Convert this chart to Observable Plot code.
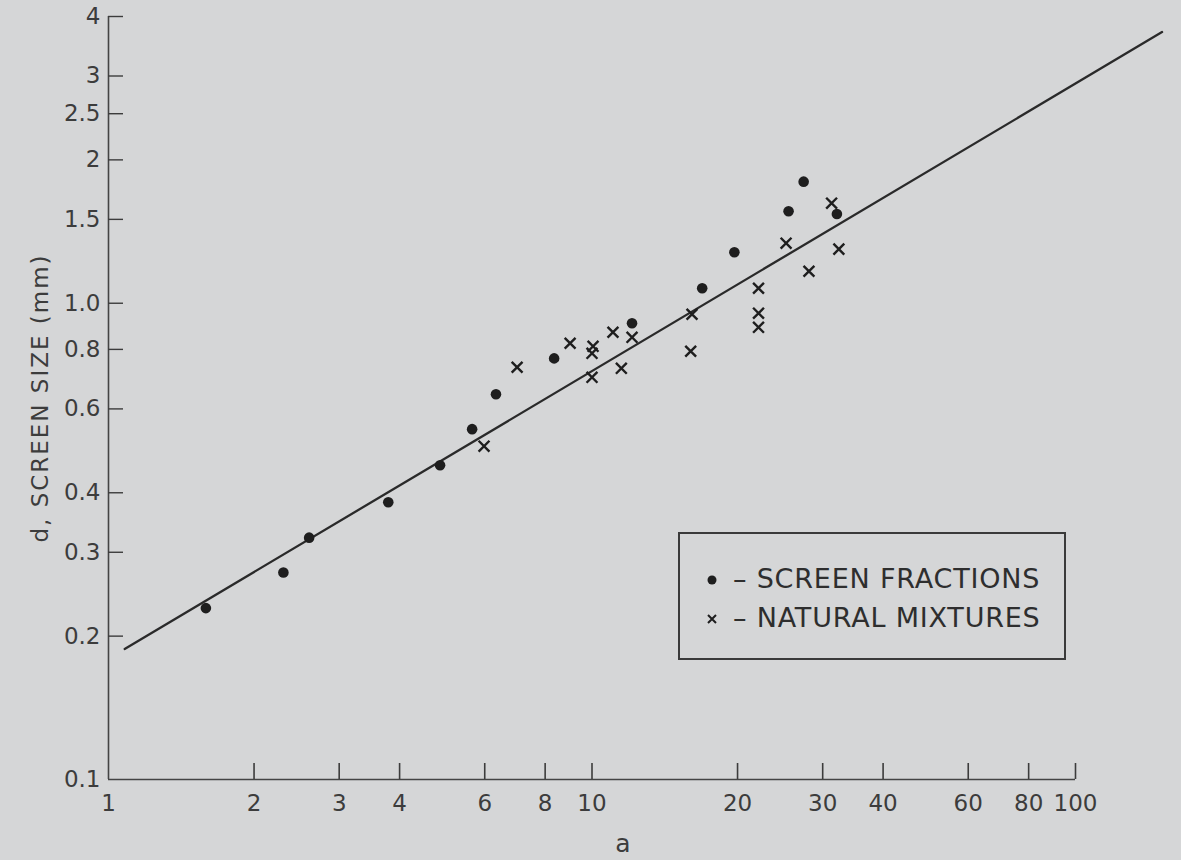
<!DOCTYPE html>
<html><head><meta charset="utf-8">
<script src="https://cdn.jsdelivr.net/npm/d3@7"></script>
<script src="https://cdn.jsdelivr.net/npm/@observablehq/plot@0.6"></script>
<style>
html,body{margin:0;padding:0;background:#d5d6d7;}
#wrap{position:relative;width:1181px;height:860px;overflow:hidden;}
#legend{position:absolute;left:678px;top:532px;width:384px;height:124px;border:2px solid #3a3a3a;}
.row{position:absolute;left:53px;font-family:"DejaVu Sans";font-size:27px;letter-spacing:0.8px;line-height:30px;color:#2e2e2e;white-space:nowrap;}
.sym{position:absolute;}
</style></head><body><div id="wrap"></div>
<script>
// Screen fractions (dots)
const screenA = [1.59, 2.30, 2.60, 3.79, 4.85, 5.65, 6.33, 8.35, 12.1, 16.9, 19.7, 25.5, 27.4, 32.1];
const screenD = [0.229, 0.272, 0.322, 0.382, 0.457, 0.544, 0.644, 0.766, 0.908, 1.075, 1.28, 1.56, 1.80, 1.54];
// Natural mixtures (crosses)
const mixA = [5.98, 7.0, 9.01, 10.05, 10.0, 10.0, 11.05, 11.5, 12.1, 16.1, 16.0, 22.1, 22.1, 22.1, 25.2, 28.1, 31.3, 32.4];
const mixD = [0.501, 0.734, 0.824, 0.812, 0.785, 0.699, 0.869, 0.730, 0.848, 0.948, 0.793, 1.075, 0.953, 0.890, 1.337, 1.167, 1.622, 1.299];
// Fitted line end points
const lineA = [1.08, 151];
const lineD = [0.188, 3.71];
// Axis ticks
const xTicks = [1, 2, 3, 4, 6, 8, 10, 20, 30, 40, 60, 80, 100];
const xTickLabels = ["1", "2", "3", "4", "6", "8", "10", "20", "30", "40", "60", "80", "100"];
const yTicks = [0.1, 0.2, 0.3, 0.4, 0.6, 0.8, 1.0, 1.5, 2, 2.5, 3, 4];
const yTickLabels = ["0.1", "0.2", "0.3", "0.4", "0.6", "0.8", "1.0", "1.5", "2", "2.5", "3", "4"];
const xLabel = "a";
const yLabel = "d, SCREEN SIZE (mm)";
const legendLabels = ["SCREEN FRACTIONS", "NATURAL MIXTURES"];

const screen = screenA.map((a, i) => ({a, d: screenD[i]}));
const mix = mixA.map((a, i) => ({a, d: mixD[i]}));
const fit = lineA.map((a, i) => ({a, d: lineD[i]}));
const xt = xTicks.map((v, i) => ({v, label: xTickLabels[i]}));
const yt = yTicks.map((v, i) => ({v, label: yTickLabels[i]}));
const ink = "#1e1e1e";
const txt = "#3c3c3c";

const chart = Plot.plot({
  width: 1181,
  height: 860,
  marginLeft: 108,
  marginRight: 106,
  marginTop: 16,
  marginBottom: 81,
  style: {background: "#d5d6d7", fontFamily: "DejaVu Sans", fontSize: "23px", color: txt},
  x: {type: "log", domain: [1, 100], label: null, axis: null},
  y: {type: "log", domain: [0.1, 4], label: null, axis: null},
  marks: [
    Plot.ruleX([1], {stroke: "#444", strokeWidth: 1.6}),
    Plot.ruleY([0.1], {stroke: "#444", strokeWidth: 1.6}),
    Plot.axisX({ticks: xTicks.slice(1), tickSize: -16, tickFormat: () => "", strokeWidth: 1.6}),
    Plot.axisY({ticks: yTicks.slice(1), tickSize: -15, tickFormat: () => "", strokeWidth: 1.4}),
    Plot.text(xt, {x: "v", text: "label", frameAnchor: "bottom", lineAnchor: "middle", dy: 24, textAnchor: "middle", fontSize: 23, fill: txt}),
    Plot.text(yt, {y: "v", text: "label", frameAnchor: "left", lineAnchor: "middle", dx: -8, textAnchor: "end", fontSize: 23, fill: txt}),
    Plot.text([yLabel], {frameAnchor: "left", dx: -68, rotate: -90, textAnchor: "middle", lineAnchor: "middle", fontSize: 23, fill: txt}),
    Plot.text([xLabel], {frameAnchor: "bottom", dx: 31, dy: 64, textAnchor: "middle", lineAnchor: "middle", fontSize: 25, fill: txt}),
    Plot.line(fit, {x: "a", y: "d", stroke: "#2a2a2a", strokeWidth: 2.3}),
    Plot.dot(screen, {x: "a", y: "d", r: 5.3, fill: ink}),
    Plot.dot(mix, {x: "a", y: "d", symbol: "times", r: 5, stroke: ink, strokeWidth: 2.4})
  ]
});

d3.select(chart).selectAll("text").filter(function() { return this.textContent === yLabel; })
  .style("letter-spacing", "2px");

const wrap = document.getElementById("wrap");
wrap.appendChild(chart);

const legend = document.createElement("div");
legend.id = "legend";
legend.innerHTML = `
  <svg class="sym" style="left:25px;top:39px" width="14" height="14"><circle cx="7" cy="7" r="4.5" fill="${ink}"/></svg>
  <div class="row" style="top:30px">– ${legendLabels[0]}</div>
  <svg class="sym" style="left:25px;top:78px" width="14" height="14"><path d="M3,3L11,11M11,3L3,11" stroke="${ink}" stroke-width="2"/></svg>
  <div class="row" style="top:69px">– ${legendLabels[1]}</div>`;
wrap.appendChild(legend);
</script>
</body></html>
